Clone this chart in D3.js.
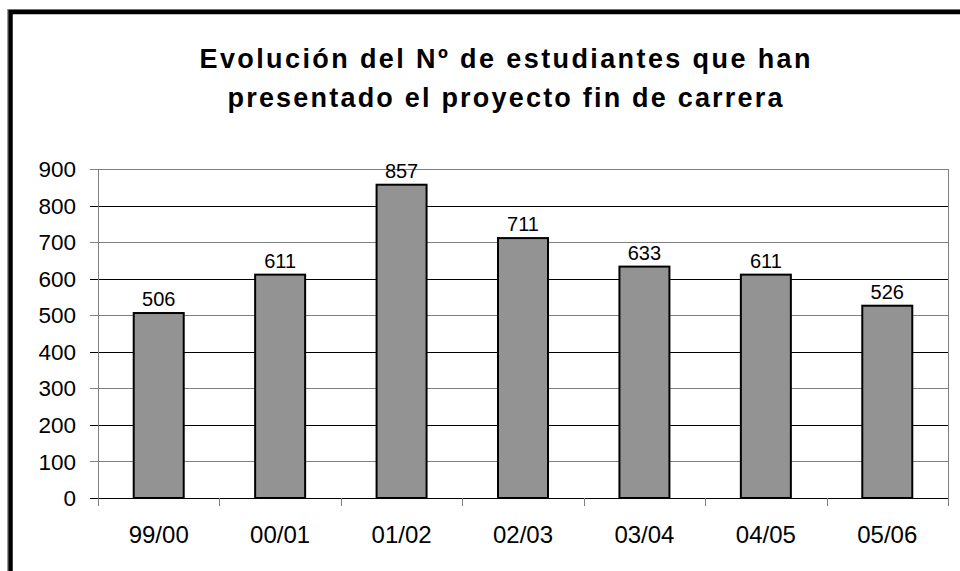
<!DOCTYPE html>
<html><head><meta charset="utf-8">
<script src="https://cdn.jsdelivr.net/npm/d3@7/dist/d3.min.js"></script>
<style>
html,body{margin:0;padding:0;background:#fff;}
svg{display:block;font-family:"Liberation Sans",Arial,sans-serif;}
</style></head>
<body>
<svg id="chart" width="960" height="571"></svg>
<script>
const titleLines = ["Evolución del Nº de estudiantes que han", "presentado el proyecto fin de carrera"];
const categories = ["99/00","00/01","01/02","02/03","03/04","04/05","05/06"];
const values = [506, 611, 857, 711, 633, 611, 526];
const yTicks = [0,100,200,300,400,500,600,700,800,900];

const svg = d3.select("#chart");
const W = 960, H = 571;
svg.append("rect").attr("width",W).attr("height",H).attr("fill","#fff");

// outer frame (extends past right/bottom edges)
svg.append("rect").attr("x",7.5).attr("y",9.5).attr("width",1100).attr("height",700)
  .attr("fill","none").attr("stroke","#999").attr("stroke-width",1);
svg.append("rect").attr("x",10.5).attr("y",12).attr("width",1100).attr("height",700)
  .attr("fill","none").attr("stroke","#000").attr("stroke-width",4.5);

// title
const tl = [611, 555];
svg.append("g").selectAll("text").data(titleLines).join("text")
  .attr("x",505).attr("y",(d,i)=>68+i*39)
  .attr("text-anchor","middle")
  .attr("font-size",27).attr("font-weight","bold").attr("fill","#000")
  .attr("textLength",(d,i)=>tl[i]).attr("lengthAdjust","spacing")
  .text(d=>d);

const m = {left:98, right:948, top:169, bottom:498};
const x = d3.scaleBand().domain(categories).range([m.left,m.right]).paddingInner(0).paddingOuter(0);
const y = d3.scaleLinear().domain([0,900]).range([m.bottom,m.top]);

// gridlines
const lineColor = (d,i)=> (i%2===0) ? "#000" : "#808080";
svg.append("g").selectAll("line").data(yTicks).join("line")
  .attr("x1",m.left-8).attr("x2",m.right)
  .attr("y1",d=>Math.round(y(d))+0.5).attr("y2",d=>Math.round(y(d))+0.5)
  .attr("stroke",lineColor).attr("stroke-width",1);

// plot frame left & right
svg.append("line").attr("x1",m.left+0.5).attr("x2",m.left+0.5)
  .attr("y1",m.top).attr("y2",m.bottom+8).attr("stroke","#808080");
svg.append("line").attr("x1",m.right+0.5).attr("x2",m.right+0.5)
  .attr("y1",m.top).attr("y2",m.bottom+8).attr("stroke","#808080");

// x tick marks at band boundaries
const bounds = categories.map(c=>x(c)).concat([m.right]);
svg.append("g").selectAll("line").data(bounds).join("line")
  .attr("x1",d=>Math.round(d)+0.5).attr("x2",d=>Math.round(d)+0.5)
  .attr("y1",m.bottom).attr("y2",m.bottom+8)
  .attr("stroke","#808080");

// y labels
svg.append("g").selectAll("text").data(yTicks).join("text")
  .attr("x",76).attr("y",d=>y(d)).attr("dy","0.36em")
  .attr("text-anchor","end").attr("font-size",22.5).attr("fill","#000")
  .text(d=>d);

// bars
const bw = 50;
svg.append("g").selectAll("rect").data(values).join("rect")
  .attr("x",(d,i)=>x(categories[i])+x.bandwidth()/2-bw/2)
  .attr("y",d=>y(d))
  .attr("width",bw).attr("height",d=>m.bottom-y(d))
  .attr("fill","#939393").attr("stroke","#000").attr("stroke-width",2);

// value labels
svg.append("g").selectAll("text").data(values).join("text")
  .attr("x",(d,i)=>x(categories[i])+x.bandwidth()/2)
  .attr("y",d=>y(d)-7)
  .attr("text-anchor","middle").attr("font-size",20).attr("fill","#000")
  .text(d=>d);

// category labels
svg.append("g").selectAll("text").data(categories).join("text")
  .attr("x",d=>x(d)+x.bandwidth()/2).attr("y",543)
  .attr("text-anchor","middle").attr("font-size",24).attr("fill","#000")
  .text(d=>d);
</script>
</body></html>
